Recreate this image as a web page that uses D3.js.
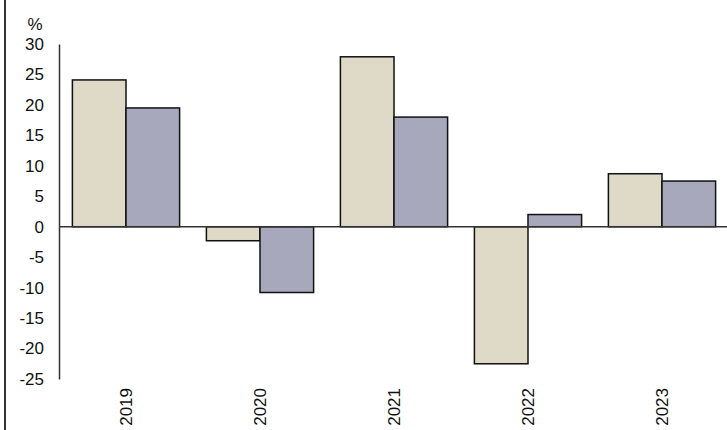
<!DOCTYPE html>
<html>
<head>
<meta charset="utf-8">
<script src="https://cdn.jsdelivr.net/npm/d3@7"></script>
<style>
  body { margin: 0; background: #fff; }
  svg { display: block; font-family: "Liberation Sans", Arial, sans-serif; }
</style>
</head>
<body>
<svg id="chart" width="727" height="430"></svg>
<script>
var years = ["2019", "2020", "2021", "2022", "2023"];
var seriesA = [24.1, -2.3, 27.9, -22.5, 8.7];
var seriesB = [19.5, -10.8, 18.0, 2.0, 7.5];
var yTicks = [30, 25, 20, 15, 10, 5, 0, -5, -10, -15, -20, -25];

var svg = d3.select("#chart");
// note: "top" is window.top, so use other names
var plotL = 59, plotR = 729, plotT = 44, plotB = 379;

var x = d3.scaleBand().domain(years).range([plotL, plotR]).paddingInner(0.2).paddingOuter(0.1);
var x1 = d3.scaleBand().domain(["a", "b"]).range([0, x.bandwidth()]);
var y = d3.scaleLinear().domain([-25, 30]).range([plotB, plotT]);

// left border
svg.append("line").attr("x1", 5).attr("x2", 5).attr("y1", 0).attr("y2", 430)
  .attr("stroke", "#333").attr("stroke-width", 2);

var rows = years.map(function(d, i) { return {year: d, a: seriesA[i], b: seriesB[i]}; });

var groups = svg.append("g").selectAll("g").data(rows).join("g")
  .attr("transform", function(d) { return "translate(" + x(d.year) + ",0)"; });

var fills = {a: "#dfdac8", b: "#a7a8bb"};
groups.selectAll("rect")
  .data(function(d) { return [{k: "a", v: d.a}, {k: "b", v: d.b}]; })
  .join("rect")
  .attr("x", function(d) { return x1(d.k); })
  .attr("width", x1.bandwidth())
  .attr("y", function(d) { return y(Math.max(0, d.v)); })
  .attr("height", function(d) { return Math.abs(y(d.v) - y(0)); })
  .attr("fill", function(d) { return fills[d.k]; })
  .attr("stroke", "#111")
  .attr("stroke-width", 1.5);

// zero line
svg.append("line").attr("x1", plotL).attr("x2", 727).attr("y1", y(0)).attr("y2", y(0))
  .attr("stroke", "#333").attr("stroke-width", 1.5);

// y axis, plain hyphen for negatives like the original
var yAxis = svg.append("g").attr("transform", "translate(" + plotL + ",0)")
  .call(d3.axisLeft(y).tickValues(yTicks).tickSize(0).tickPadding(15).tickFormat(String));
yAxis.select(".domain").attr("stroke", "#333").attr("stroke-width", 1.5);
yAxis.selectAll("text").attr("font-size", 17).attr("fill", "#111")
  .attr("font-family", "Liberation Sans, Arial, sans-serif");

svg.append("text").attr("x", 35).attr("y", 30).attr("text-anchor", "middle")
  .attr("font-size", 17).attr("fill", "#111").text("%");

// year labels
svg.append("g").selectAll("text").data(years).join("text")
  .attr("transform", function(d) {
    return "translate(" + (x(d) + x.bandwidth() / 2 + 6) + ",388) rotate(-90)";
  })
  .attr("text-anchor", "end")
  .attr("font-size", 17)
  .attr("fill", "#111")
  .text(function(d) { return d; });
</script>
</body>
</html>
